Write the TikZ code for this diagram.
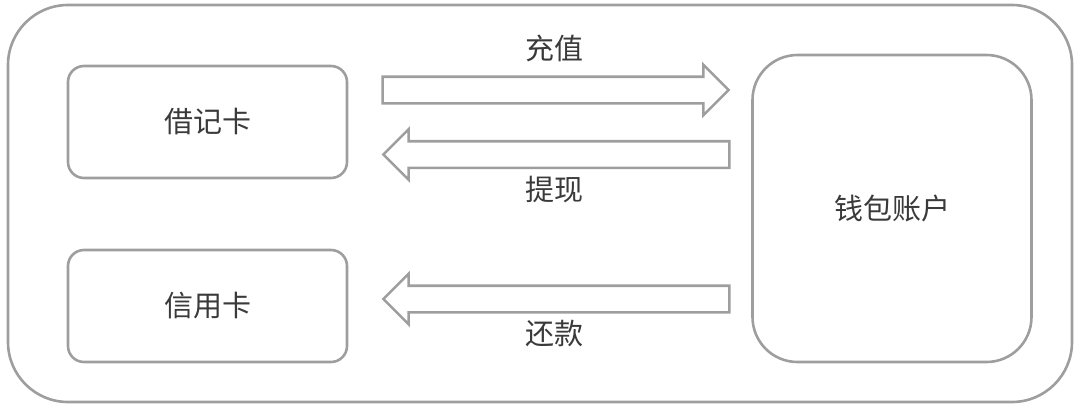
\documentclass[tikz,border=0pt]{standalone}
\usepackage{fontspec}
\usepackage{xcolor}
\usetikzlibrary{positioning, shapes.arrows}
\newfontfamily\cjk{Noto Sans CJK SC}
\definecolor{framegray}{HTML}{9E9E9E}
\definecolor{textgray} {HTML}{3A3A3A}

\begin{document}
\begin{tikzpicture}[
    x=1pt, y=-1pt,
    node distance=6pt,
    card/.style={draw=framegray, line width=2.6pt, rounded corners=16pt,
                 minimum width=279pt, minimum height=112pt,
                 font=\cjk\fontsize{29}{32}\selectfont, text=textgray},
    fatarrow/.style={single arrow, draw=framegray, line width=2.6pt,
                     inner xsep=0pt, inner ysep=12pt,
                     single arrow head extend=12pt,
                     minimum height=346pt},
    lbl/.style={font=\cjk\fontsize{29}{32}\selectfont, text=textgray, inner sep=0pt},
  ]
    \useasboundingbox (0,0) rectangle (1080,408);

    % outer frame
    \node[draw=framegray, line width=2.6pt, rounded corners=60pt,
          minimum width=1064pt, minimum height=397pt] (frame) at (540,203.5) {};

    \node[card] (debit)  at (207.5,122) {借记卡};
    \node[card] (credit) at (207.5,306) {信用卡};
    \node[card, rounded corners=45pt, minimum height=307pt] (wallet)
      at (892,208.5) {钱包账户};

    % money flows
    \node[fatarrow] (topup) at (549,90) {};
    \node[fatarrow, shape border rotate=180] (withdraw) at (563,154.5) {};
    \node[fatarrow, shape border rotate=180] (repay) at (563,299) {};

    \node[lbl, above=28pt of topup.center, xshift=5pt] (topuplbl) {充值};
    \node[lbl, below=21pt of withdraw.center, xshift=-9pt] (withdrawlbl) {提现};
    \node[lbl, below=21pt of repay.center, xshift=-9pt] (repaylbl) {还款};
  \end{tikzpicture}
\end{document}
